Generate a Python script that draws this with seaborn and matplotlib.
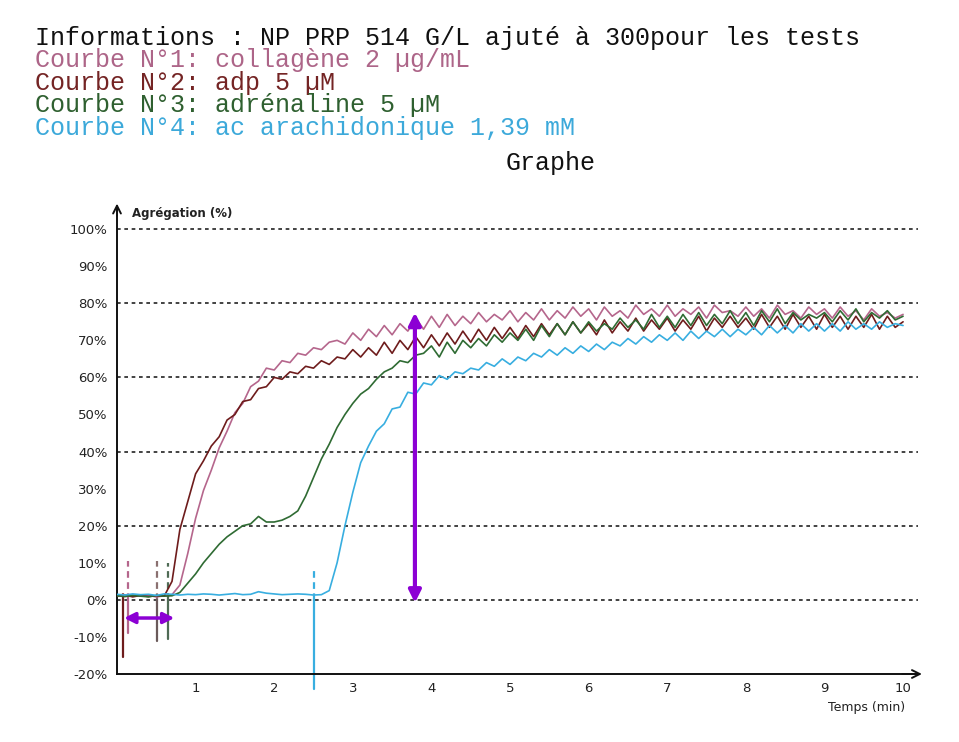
import numpy as np
import pandas as pd
import matplotlib
matplotlib.use("Agg")
import matplotlib.pyplot as plt
import seaborn as sns

# ---------------- data ----------------
TIME = np.round(np.arange(0, 101) / 10.0, 1)  # minutes, 0.0 .. 10.0

COLLAGENE = [
    1.2, 0.9, 1.3, 1.0, 1.2, 0.8, 1.1, 1.4, 4.0, 12.5,
    22.0, 29.5, 35.0, 41.0, 45.5, 50.5, 53.0, 57.5, 59.0, 62.5,
    62.0, 64.5, 64.0, 66.5, 66.0, 68.0, 67.5, 69.5, 70.0, 69.0,
    72.0, 70.0, 73.0, 71.0, 74.0, 71.5, 74.5, 72.5, 76.0, 73.0,
    76.5, 73.5, 77.0, 74.0, 76.5, 74.5, 77.5, 75.0, 77.0, 75.5,
    78.0, 75.0, 77.5, 75.5, 78.5, 75.5, 78.0, 76.0, 79.0, 76.5,
    78.5, 75.5, 79.0, 76.5, 78.0, 76.0, 79.5, 77.0, 78.5, 76.5,
    79.5, 76.5, 78.5, 77.0, 79.0, 76.0, 79.5, 77.5, 78.0, 76.5,
    79.0, 76.5, 78.5, 76.0, 79.5, 77.0, 78.0, 76.0, 79.0, 77.0,
    78.5, 76.0, 79.0, 76.5, 78.0, 75.5, 78.5, 76.5, 77.5, 76.0,
    77.0,
]
ADP = [
    1.0, 1.3, 0.8, 1.2, 0.9, 1.1, 1.0, 5.0, 19.0, 26.5,
    34.0, 37.5, 41.5, 44.0, 48.5, 50.0, 53.5, 54.0, 57.0, 57.5,
    60.0, 59.5, 61.5, 61.0, 63.0, 62.5, 64.5, 63.5, 65.5, 65.0,
    67.5, 65.5, 68.0, 66.0, 69.5, 66.5, 70.0, 67.5, 71.0, 68.0,
    71.5, 68.5, 72.0, 69.0, 72.5, 69.5, 73.0, 70.0, 73.5, 70.5,
    73.5, 70.5, 74.0, 71.0, 74.5, 71.5, 74.5, 71.5, 75.0, 72.0,
    74.5, 71.5, 75.5, 72.0, 75.0, 72.5, 76.0, 72.5, 75.5, 73.0,
    76.0, 72.5, 75.5, 73.0, 76.5, 72.5, 76.0, 73.5, 76.5, 73.5,
    76.0, 73.0, 77.0, 73.5, 76.5, 73.0, 77.0, 73.5, 76.5, 73.0,
    77.0, 73.5, 76.5, 73.0, 76.5, 73.5, 77.0, 73.0, 76.5, 73.5,
    75.0,
]
ADRENALINE = [
    1.1, 0.9, 1.2, 1.0, 0.8, 1.2, 1.0, 1.1, 2.0, 4.5,
    7.0, 10.0, 12.5, 15.0, 17.0, 18.5, 20.0, 20.5, 22.5, 21.0,
    21.0, 21.5, 22.5, 24.0, 28.0, 33.0, 38.0, 42.0, 46.5, 50.0,
    53.0, 55.5, 57.0, 59.5, 61.5, 62.5, 64.5, 64.0, 66.0, 66.5,
    68.5, 65.5, 69.5, 66.5, 70.0, 68.0, 70.5, 68.5, 71.5, 69.5,
    72.0, 70.0, 73.0, 70.0, 74.0, 71.0, 74.5, 71.5, 75.0, 72.0,
    75.0, 72.5, 74.5, 73.0, 76.0, 73.5, 75.5, 73.0, 77.0, 73.5,
    76.5, 73.5, 77.0, 74.0, 77.5, 74.0, 77.0, 74.5, 78.0, 74.5,
    77.5, 74.0, 78.0, 75.0, 78.5, 74.5, 77.5, 75.5, 77.0, 76.0,
    77.5, 75.0, 78.0, 75.5, 78.5, 75.0, 77.5, 76.0, 78.0, 75.5,
    76.5,
]
ARACHIDONIQUE = [
    1.5, 1.3, 1.6, 1.4, 1.5, 1.2, 1.6, 1.5, 1.3, 1.5,
    1.4, 1.6, 1.5, 1.3, 1.5, 1.7, 1.4, 1.5, 2.2, 1.8,
    1.6, 1.4, 1.5, 1.6, 1.5, 1.3, 1.4, 2.5, 10.0, 20.0,
    29.0, 37.0, 41.5, 45.5, 47.5, 51.5, 52.0, 56.0, 55.5, 58.5,
    58.0, 60.5, 59.5, 61.5, 61.0, 62.5, 62.0, 64.0, 63.0, 65.0,
    63.5, 65.5, 64.5, 66.5, 65.5, 67.5, 66.0, 68.0, 66.5, 68.5,
    67.0, 69.0, 67.5, 69.5, 68.5, 70.5, 69.0, 71.0, 69.5, 71.5,
    70.0, 72.0, 70.0, 72.5, 70.5, 72.5, 71.0, 73.0, 71.0, 73.0,
    71.5, 73.5, 71.5, 74.0, 72.0, 74.0, 72.0, 74.5, 72.5, 74.5,
    72.5, 74.5, 72.5, 75.0, 73.0, 74.5, 73.0, 75.0, 73.5, 74.5,
    74.0,
]

CURVE_NAMES = ["collagène", "adp", "adrénaline", "ac arachidonique"]
CURVE_COLORS = ["#b5668c", "#6e1c1c", "#2f6b33", "#38aee0"]

# injection markers (time, top, bottom) per curve
INJ_TIME = [0.14, 0.08, 0.65, 2.50]
INJ_TOP = [10.5, 2.0, 10.0, 8.5]
INJ_BOT = [-9.0, -15.5, -10.5, -24.0]
INJ_COLOR = ["#b5668c", "#6e1c1c", "#4f6b55", "#38aee0"]
INJ2_TIME = [0.51]
INJ2_TOP = [10.5]
INJ2_BOT = [-11.0]

Y_TICKS = [-20, -10, 0, 10, 20, 30, 40, 50, 60, 70, 80, 90, 100]
Y_LABELS = [f"{v}%" for v in Y_TICKS]
GRID_Y = [0, 20, 40, 60, 80, 100]
X_TICKS = [1, 2, 3, 4, 5, 6, 7, 8, 9, 10]
X_MINOR = [0.5, 1.5, 2.5, 3.5, 4.5, 5.5, 6.5, 7.5, 8.5, 9.5]

HEADER = "Informations : NP PRP 514 G/L ajuté à 300pour les tests"
LEGEND_LINES = [
    "Courbe N°1: collagène 2 µg/mL",
    "Courbe N°2: adp 5 µM",
    "Courbe N°3: adrénaline 5 µM",
    "Courbe N°4: ac arachidonique 1,39 mM",
]
LEGEND_COLORS = ["#ad6588", "#742424", "#2f6030", "#3ca9da"]

# ---------------- figure ----------------
sns.set_theme(style="white")
plt.rcParams["font.family"] = ["DejaVu Sans"]

W, H = 959, 742
fig = plt.figure(figsize=(W / 100, H / 100), dpi=100)
fig.patch.set_facecolor("white")

X0, X1 = 117, 918
Y0, Y1 = 674, 208
ax = fig.add_axes([X0 / W, 1 - Y0 / H, (X1 - X0) / W, (Y0 - Y1) / H])
ax.set_facecolor("none")
XMAX = 10.19
YMIN, YMAX = -20, 105.7
ax.set_xlim(0, XMAX)
ax.set_ylim(YMIN, YMAX)

# grid lines
for g in GRID_Y:
    ax.plot([0, XMAX], [g, g], color="#222222", lw=1.2, ls=(0, (2.2, 2.2)), zorder=1)

df = pd.concat([
    pd.DataFrame({"t": TIME, "v": vals, "courbe": name})
    for name, vals in zip(CURVE_NAMES, [COLLAGENE, ADP, ADRENALINE, ARACHIDONIQUE])
])
sns.lineplot(data=df, x="t", y="v", hue="courbe", hue_order=CURVE_NAMES,
             palette=CURVE_COLORS, estimator=None, sort=False, legend=False,
             lw=1.2, ax=ax, zorder=3)

# injection markers
for t, top, bot, c in zip(INJ_TIME, INJ_TOP, INJ_BOT, INJ_COLOR):
    ax.plot([t, t], [0, top], color=c, lw=1.6, ls=(0, (3, 2)), zorder=2)
    ax.plot([t, t], [0, bot], color=c, lw=1.6, zorder=2, clip_on=False)
for t, top, bot in zip(INJ2_TIME, INJ2_TOP, INJ2_BOT):
    ax.plot([t, t], [0, top], color="#8a7070", lw=1.6, ls=(0, (3, 2)), zorder=2)
    ax.plot([t, t], [0, bot], color="#6a5a5a", lw=1.6, zorder=2)

# purple arrows
PURPLE = "#8c00d4"
ax.annotate("", xy=(3.79, 77.5), xytext=(3.79, -0.8),
            arrowprops=dict(arrowstyle="<|-|>", color=PURPLE, lw=3,
                            mutation_scale=18, shrinkA=0, shrinkB=0), zorder=5)
ax.annotate("", xy=(0.73, -4.9), xytext=(0.09, -4.9),
            arrowprops=dict(arrowstyle="<|-|>", color=PURPLE, lw=2.5,
                            mutation_scale=16, shrinkA=0, shrinkB=0), zorder=5)

# axes styling
for s in ["top", "right"]:
    ax.spines[s].set_visible(False)
for s in ["left", "bottom"]:
    ax.spines[s].set_color("#111111")
    ax.spines[s].set_linewidth(1.4)
ax.set_yticks(Y_TICKS)
ax.set_yticklabels(Y_LABELS)
ax.set_xticks(X_TICKS)
ax.set_xticklabels([str(x) for x in X_TICKS])
ax.set_xticks(X_MINOR, minor=True)
ax.tick_params(axis="y", direction="out", length=6, width=1.3, color="#111111",
               labelsize=9.5, labelcolor="#222222", pad=1)
ax.tick_params(axis="x", which="major", direction="inout", length=9, width=1.2,
               color="#111111", labelsize=9.5, labelcolor="#222222", pad=1)
ax.tick_params(axis="x", which="minor", direction="inout", length=6, width=1.2,
               color="#111111")
ax.set_xlabel("")
ax.set_ylabel("")

# axis arrow heads
ax.annotate("", xy=(0, YMAX + 1.2), xytext=(0, YMAX - 2),
            arrowprops=dict(arrowstyle="->", color="#111111", lw=1.4,
                            mutation_scale=14, shrinkA=0, shrinkB=0),
            annotation_clip=False)
ax.annotate("", xy=(XMAX + 0.05, YMIN), xytext=(XMAX - 0.2, YMIN),
            arrowprops=dict(arrowstyle="->", color="#111111", lw=1.4,
                            mutation_scale=14, shrinkA=0, shrinkB=0),
            annotation_clip=False)

# axis titles
fig.text(132 / W, 1 - 213 / H, "Agrégation (%)", fontsize=8.5, fontweight="bold",
         color="#222222", ha="left", va="center")
fig.text(905 / W, 1 - 707 / H, "Temps (min)", fontsize=9, color="#222222",
         ha="right", va="center")

# header text
MONO = ["Liberation Mono", "DejaVu Sans Mono"]
FS = 18
fig.text(35 / W, 1 - 45 / H, HEADER, family=MONO, fontsize=FS, color="#111111",
         ha="left", va="baseline")
for i, (line, c) in enumerate(zip(LEGEND_LINES, LEGEND_COLORS)):
    fig.text(35 / W, 1 - (67 + 22.7 * i) / H, line, family=MONO, fontsize=FS,
             color=c, ha="left", va="baseline")
fig.text(551 / W, 1 - 170 / H, "Graphe", family=MONO, fontsize=FS,
         color="#111111", ha="center", va="baseline")

fig.savefig("out.png", dpi=100, facecolor="white")
